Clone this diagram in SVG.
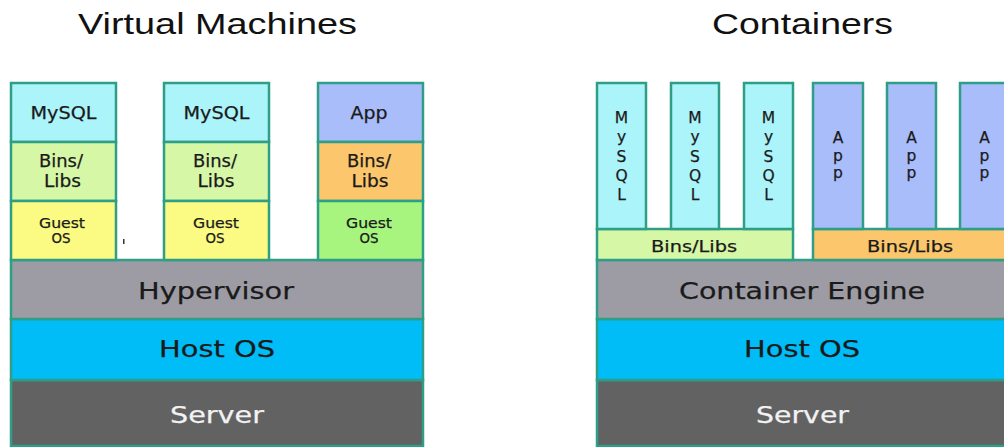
<svg xmlns="http://www.w3.org/2000/svg" width="1004" height="447" viewBox="0 0 1004 447">
<style>
.b{stroke:#2e9e86;stroke-width:2.5}
.title{font-family:"Liberation Sans",Arial,sans-serif;font-size:29px;fill:#111}
.t{font-family:"DejaVu Sans",Verdana,sans-serif;fill:#1a1a1a;text-anchor:middle;stroke:#1a1a1a;stroke-width:0.25}
.m{font-size:17px}
.s{font-size:14px}
.l{font-size:23px}
.bl{font-size:16px}
.v{font-size:15.5px}
.w{fill:#f2f2f2;stroke:#f2f2f2}
.cy{fill:#abf4fa}.gr{fill:#d6f7a6}.ye{fill:#fbfa83}.ap{fill:#a8bdfa}.or{fill:#fbc66c}.lg{fill:#a7f57f}
.hv{fill:#9d9ca4}.ho{fill:#00bcf7}.sv{fill:#626262}
</style>
<rect width="1004" height="447" fill="#ffffff"/>
<text class="title" x="78" y="34" textLength="279" lengthAdjust="spacingAndGlyphs">Virtual Machines</text>
<text class="title" x="712" y="34" textLength="181" lengthAdjust="spacingAndGlyphs">Containers</text>

<g id="vm-base">
<rect class="b sv" x="11" y="380" width="412" height="66"/>
<text class="t l w" x="217" y="423" textLength="94" lengthAdjust="spacingAndGlyphs">Server</text>
<rect class="b ho" x="11" y="319" width="412" height="61"/>
<text class="t l" x="217" y="357" textLength="116" lengthAdjust="spacingAndGlyphs">Host OS</text>
<rect class="b hv" x="11" y="260" width="412" height="59"/>
<text class="t l" x="216" y="299" textLength="156" lengthAdjust="spacingAndGlyphs">Hypervisor</text>
</g>

<g id="vm1">
<rect class="b cy" x="11" y="83" width="105" height="59"/>
<text class="t m" x="63.5" y="119" textLength="66" lengthAdjust="spacingAndGlyphs">MySQL</text>
<rect class="b gr" x="11" y="142" width="105" height="59"/>
<text class="t m" x="61" y="167" textLength="44" lengthAdjust="spacingAndGlyphs">Bins/</text>
<text class="t m" x="62.5" y="187" textLength="37" lengthAdjust="spacingAndGlyphs">Libs</text>
<rect class="b ye" x="11" y="201" width="105" height="59"/>
<text class="t s" x="62" y="227.5" textLength="46" lengthAdjust="spacingAndGlyphs">Guest</text>
<text class="t s" x="61" y="243" textLength="19" lengthAdjust="spacingAndGlyphs">OS</text>
</g>
<rect x="123" y="239" width="1.5" height="5" fill="#333"/>

<g id="vm2">
<rect class="b cy" x="164" y="83" width="105" height="59"/>
<text class="t m" x="216.5" y="119" textLength="66" lengthAdjust="spacingAndGlyphs">MySQL</text>
<rect class="b gr" x="164" y="142" width="105" height="59"/>
<text class="t m" x="215" y="167" textLength="44" lengthAdjust="spacingAndGlyphs">Bins/</text>
<text class="t m" x="216" y="187" textLength="37" lengthAdjust="spacingAndGlyphs">Libs</text>
<rect class="b ye" x="164" y="201" width="105" height="59"/>
<text class="t s" x="216" y="227.5" textLength="46" lengthAdjust="spacingAndGlyphs">Guest</text>
<text class="t s" x="215" y="243" textLength="19" lengthAdjust="spacingAndGlyphs">OS</text>
</g>

<g id="vm3">
<rect class="b ap" x="318" y="83" width="105" height="59"/>
<text class="t m" x="369" y="119" textLength="37" lengthAdjust="spacingAndGlyphs">App</text>
<rect class="b or" x="318" y="142" width="105" height="59"/>
<text class="t m" x="369" y="167" textLength="44" lengthAdjust="spacingAndGlyphs">Bins/</text>
<text class="t m" x="370" y="187" textLength="37" lengthAdjust="spacingAndGlyphs">Libs</text>
<rect class="b lg" x="318" y="201" width="105" height="59"/>
<text class="t s" x="369" y="227.5" textLength="46" lengthAdjust="spacingAndGlyphs">Guest</text>
<text class="t s" x="369" y="243" textLength="19" lengthAdjust="spacingAndGlyphs">OS</text>
</g>

<g id="ct-base">
<rect class="b sv" x="597" y="380" width="420" height="66"/>
<text class="t l w" x="802.5" y="423" textLength="93" lengthAdjust="spacingAndGlyphs">Server</text>
<rect class="b ho" x="597" y="319" width="420" height="61"/>
<text class="t l" x="802" y="357" textLength="116" lengthAdjust="spacingAndGlyphs">Host OS</text>
<rect class="b hv" x="597" y="260" width="420" height="59"/>
<text class="t l" x="802" y="299" textLength="246" lengthAdjust="spacingAndGlyphs">Container Engine</text>
</g>

<g id="ct-bins1">
<rect class="b gr" x="597" y="229" width="196" height="31"/>
<text class="t bl" x="694" y="252" textLength="86" lengthAdjust="spacingAndGlyphs">Bins/Libs</text>
</g>
<g id="ct-bins2">
<rect class="b or" x="813" y="229" width="204" height="31"/>
<text class="t bl" x="910" y="252" textLength="86" lengthAdjust="spacingAndGlyphs">Bins/Libs</text>
</g>

<g id="ct-mysql1">
<rect class="b cy" x="597" y="83" width="49" height="146"/>
<text class="t v" x="621.5" y="123">M</text><text class="t v" x="621.5" y="142">y</text><text class="t v" x="621.5" y="161.5">S</text><text class="t v" x="621.5" y="181">Q</text><text class="t v" x="621.5" y="200">L</text>
</g>
<g id="ct-mysql2">
<rect class="b cy" x="671" y="83" width="48" height="146"/>
<text class="t v" x="695" y="123">M</text><text class="t v" x="695" y="142">y</text><text class="t v" x="695" y="161.5">S</text><text class="t v" x="695" y="181">Q</text><text class="t v" x="695" y="200">L</text>
</g>
<g id="ct-mysql3">
<rect class="b cy" x="744" y="83" width="49" height="146"/>
<text class="t v" x="768.5" y="123">M</text><text class="t v" x="768.5" y="142">y</text><text class="t v" x="768.5" y="161.5">S</text><text class="t v" x="768.5" y="181">Q</text><text class="t v" x="768.5" y="200">L</text>
</g>
<g id="ct-app1">
<rect class="b ap" x="813" y="83" width="50" height="146"/>
<text class="t v" x="838" y="143">A</text><text class="t v" x="838" y="161">p</text><text class="t v" x="838" y="178">p</text>
</g>
<g id="ct-app2">
<rect class="b ap" x="887" y="83" width="49" height="146"/>
<text class="t v" x="911.5" y="143">A</text><text class="t v" x="911.5" y="161">p</text><text class="t v" x="911.5" y="178">p</text>
</g>
<g id="ct-app3">
<rect class="b ap" x="960" y="83" width="60" height="146"/>
<text class="t v" x="984.5" y="143">A</text><text class="t v" x="984.5" y="161">p</text><text class="t v" x="984.5" y="178">p</text>
</g>
<g id="connectors"/>
</svg>
